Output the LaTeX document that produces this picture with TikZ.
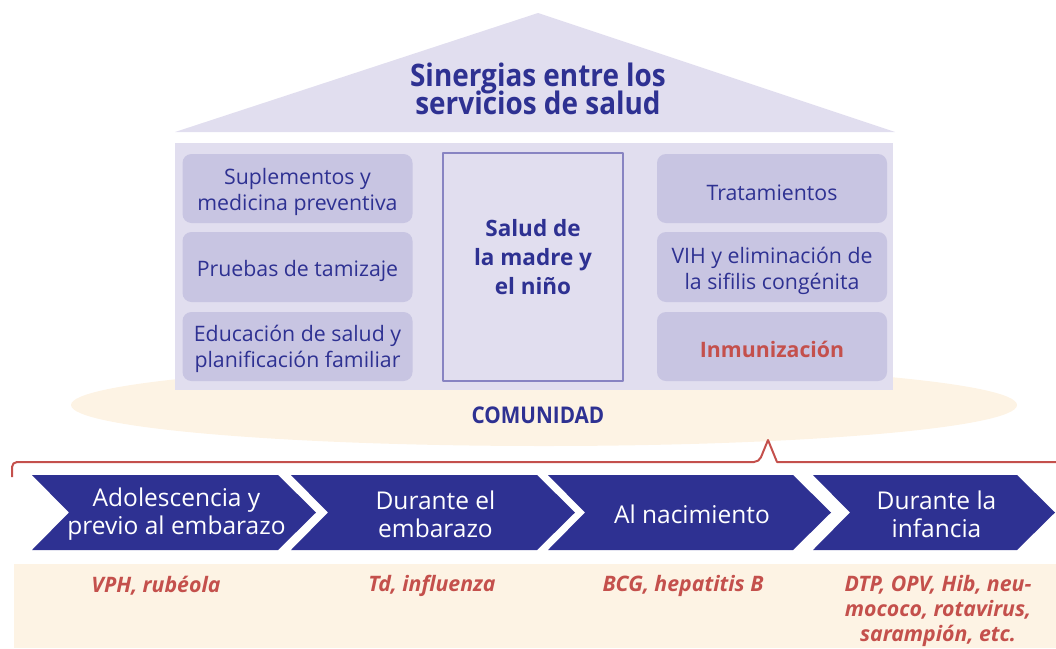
\documentclass[tikz,border=0pt]{standalone}
\usepackage{fontspec}
\setmainfont{Open Sans}
\newfontfamily\condfont[FakeStretch=0.9]{Open Sans}
\definecolor{sdblue}{HTML}{2E3192}
\definecolor{sdred}{HTML}{C4504C}
\definecolor{sdlav}{HTML}{E1DEEF}
\definecolor{sdbox}{HTML}{C8C5E2}
\definecolor{sdframe}{HTML}{8884C2}
\definecolor{sdcream}{HTML}{FDF3E4}
\begin{document}
\begin{tikzpicture}[x=1pt, y=-1pt, line join=round,
  svcbox/.style={fill=sdbox, rounded corners=9pt, text=sdblue, align=center, font=\fontsize{21.3}{26}\selectfont},
  svctext/.style={text=sdblue, align=center, font=\fontsize{21.3}{26}\selectfont},
  stage/.style={text=white, align=center, font=\fontsize{24.5}{28}\selectfont},
  vacc/.style={text=sdred, align=center, font=\bfseries\itshape\fontsize{21.3}{25}\selectfont}]
\useasboundingbox (0,0) rectangle (1056,648);
% comunidad
\fill[sdcream] (544,405) ellipse [x radius=473, y radius=41];
\node[font=\condfont\bfseries\fontsize{23}{24}\selectfont, text=sdblue] (com) at (538,415) {COMUNIDAD};
% casa
\fill[sdlav] (175,132) -- (538,13) -- (895,132) -- cycle;
\fill[sdlav] (175,143) rectangle (893,390);
\node[font=\condfont\bfseries\fontsize{31}{26}\selectfont, text=sdblue, align=center] (title) at (538,89) {Sinergias entre los\\[-4pt]servicios de salud};
\foreach \x/\y/\h/\n in {297.5/188.5/69/sup, 297.5/267/70/pru, 297.5/346.5/69/edu,
  772/188.5/69/tra, 772/267/70/vih, 772/346.5/69/inm}
  \node[svcbox, minimum width=230, minimum height=\h] (\n) at (\x,\y) {};
\node[svctext] (supt) at ([yshift=-3]sup.center) {Suplementos y\\medicina preventiva};
\node[svctext] (prut) at ([yshift=-4]pru.center) {Pruebas de tamizaje};
\node[svctext] (edut) at ([yshift=-2]edu.center) {Educación de salud y\\planificación familiar};
\node[svctext] (trat) at ([yshift=-4]tra.center) {Tratamientos};
\node[svctext] (viht) at ([yshift=-4]vih.center) {VIH y eliminación de\\la sifilis congénita};
\node[svctext, text=sdred, font=\bfseries\fontsize{21.3}{26}\selectfont] (inmt) at ([yshift=-3]inm.center) {Inmunización};
\node[draw=sdframe, line width=2, fill=sdlav, minimum width=180, minimum height=228] (smn) at (533,267) {};
\node[text=sdblue, align=center, font=\bfseries\fontsize{22.5}{29}\selectfont] (smnt) at (533,257) {Salud de\\la madre y\\el niño};
% linea de tiempo
\coordinate (bl) at (12,477);
\coordinate (peak) at (768,440);
\draw[sdred, line width=2] (bl) [rounded corners=5pt] |- (759,462) [sharp corners] -- (peak) -- (777,462) -- (1056,462);
\foreach \l/\r/\n/\t in {32/278/ado/{Adolescencia y\\previo al embarazo}, 291/537/emb/{Durante el\\embarazo},
  548/793/nac/{Al nacimiento}, 813/1017/inf/{Durante la\\infancia}}{
  \fill[sdblue] (\l,475) -- (\r,475) -- (\r+38,512.5) -- (\r,550) -- (\l,550) -- (\l+37,512.5) -- cycle;
  \node[stage] (\n) at ({(\l+\r+37)/2+3},514.5) {\t};
}
\fill[sdcream] (14,564) rectangle (1056,648);
\node[vacc] (vph) at (156,586) {VPH, rubéola};
\node[vacc] (td) at (432,586) {Td, influenza};
\node[vacc] (bcg) at (683,586) {BCG, hepatitis B};
\node[vacc] (dtp) at (938,611) {DTP, OPV, Hib, neu-\\mococo, rotavirus,\\sarampión, etc.};
\end{tikzpicture}
\end{document}
